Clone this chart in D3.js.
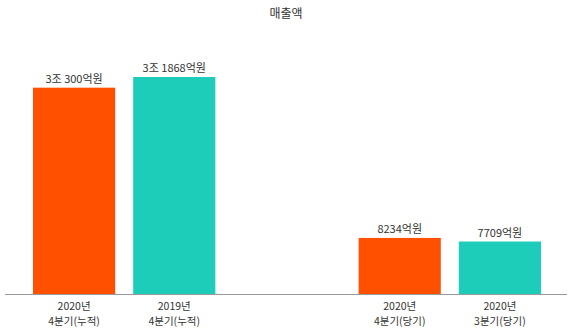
<!DOCTYPE html>
<html>
<head>
<meta charset="utf-8">
<script src="https://cdn.jsdelivr.net/npm/d3@7"></script>
<style>
  body { margin: 0; background: #fff; }
  svg { font-family: "Noto Sans CJK KR", "Noto Sans", sans-serif; }
</style>
</head>
<body>
<svg class="chart" width="572" height="335"></svg>
<script>
// data
const groups = ["누적", "당기"];
const categories = [
  ["2020년|4분기(누적)", "2019년|4분기(누적)"],
  ["2020년|4분기(당기)", "2020년|3분기(당기)"]
];
const values = [[30300, 31868], [8234, 7709]];
const valueLabels = [["3조 300억원", "3조 1868억원"], ["8234억원", "7709억원"]];
const colors = ["#ff5000", "#1ecdb9"];

// config
const width = 572;
const height = 335;
const baseline = 294;

const svg = d3.select("svg.chart");

const outer = d3.scaleBand()
  .domain(groups)
  .range([5, 569])
  .paddingInner(0.4)
  .paddingOuter(0.066);

const inner = d3.scaleBand()
  .domain([0, 1])
  .range([0, outer.bandwidth()])
  .paddingInner(0.18)
  .paddingOuter(0.065);

const y = d3.scaleLinear()
  .domain([0, 31868])
  .range([baseline, baseline - 217]);

// title
svg.append("text")
  .attr("x", width / 2)
  .attr("y", 18)
  .attr("text-anchor", "middle")
  .attr("font-size", 12)
  .attr("fill", "#333")
  .text("매출액");

const g = svg.selectAll("g.group")
  .data(groups)
  .enter()
  .append("g")
  .attr("class", "group")
  .attr("transform", d => `translate(${outer(d)},0)`);

g.each(function (grp, gi) {
  const sel = d3.select(this);
  const items = values[gi].map((v, i) => ({ v, i, label: valueLabels[gi][i], cat: categories[gi][i] }));
  const cx = d => inner(d.i) + inner.bandwidth() / 2;

  sel.selectAll("rect")
    .data(items)
    .enter()
    .append("rect")
    .attr("x", d => inner(d.i))
    .attr("width", inner.bandwidth())
    .attr("y", d => y(d.v))
    .attr("height", d => baseline - y(d.v))
    .attr("fill", d => colors[d.i]);

  sel.selectAll("text.value")
    .data(items)
    .enter()
    .append("text")
    .attr("class", "value")
    .attr("x", cx)
    .attr("y", d => y(d.v) - 5)
    .attr("text-anchor", "middle")
    .attr("font-size", 11)
    .attr("fill", "#333")
    .text(d => d.label);

  // two-line category labels
  [0, 1].forEach(li => {
    sel.selectAll(`text.tick${li}`)
      .data(items)
      .enter()
      .append("text")
      .attr("class", `tick${li}`)
      .attr("x", cx)
      .attr("y", 310 + li * 15)
      .attr("text-anchor", "middle")
      .attr("font-size", 10.5)
      .attr("fill", "#333")
      .text(d => d.cat.split("|")[li]);
  });
});

// axis line
svg.append("line")
  .attr("x1", 5)
  .attr("x2", 567)
  .attr("y1", baseline + 0.5)
  .attr("y2", baseline + 0.5)
  .attr("stroke", "#999")
  .attr("stroke-width", 1);
</script>
</body>
</html>
